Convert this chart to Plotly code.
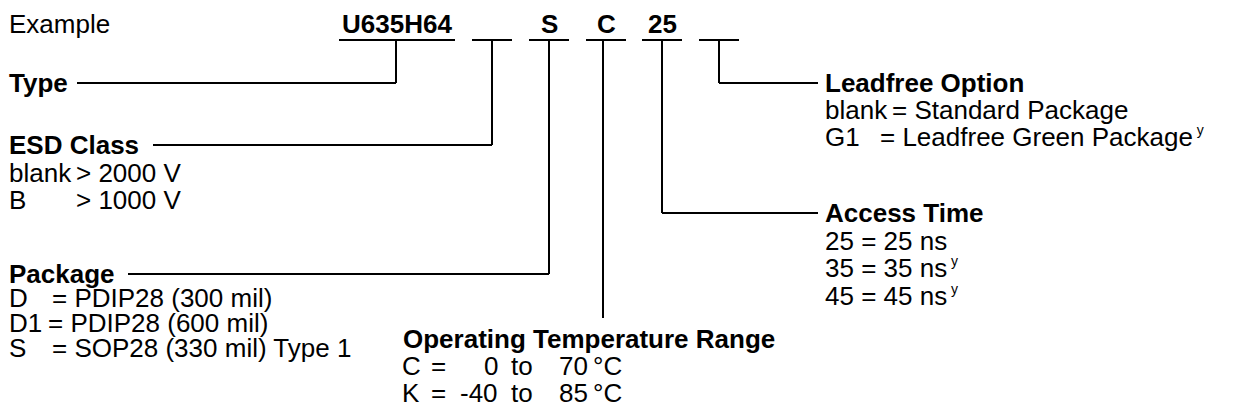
import plotly.graph_objects as go

# ---- content (text data) ----
example_label = "Example"
code_parts = ["U635H64", "", "S", "C", "25", ""]
group_titles = ["Type", "ESD Class", "Package", "Operating Temperature Range", "Access Time", "Leadfree Option"]
esd_codes = ["blank", "B"]
esd_desc = ["> 2000 V", "> 1000 V"]
pkg_codes = ["D", "D1", "S"]
pkg_desc = ["= PDIP28 (300 mil)", "= PDIP28 (600 mil)", "= SOP28 (330 mil) Type 1"]
temp_codes = ["C", "K"]
temp_low = ["0", "-40"]
temp_high = ["70", "85"]
temp_unit = "°C"
access_codes = ["25", "35", "45"]
access_desc = ["25 ns", "35 ns", "45 ns"]
access_note = [False, True, True]
lead_codes = ["blank", "G1"]
lead_desc = ["Standard Package", "Leadfree Green Package"]
lead_note = [False, True]

# ---- layout geometry (pixels) ----
W, H = 1237, 416
FONT = "Arial, Liberation Sans, sans-serif"
FS = 26
BLACK = "#000000"

fig = go.Figure()
ann = []
shapes = []


def text(x, y, s, bold=False, anchor="left", size=FS):
    if bold:
        s = "<b>" + s + "</b>"
    ann.append(dict(x=x, y=y, text=s, xref="x", yref="y", showarrow=False,
                    xanchor=anchor, yanchor="middle", borderpad=0,
                    font=dict(family=FONT, size=size, color=BLACK)))


def line(x0, y0, x1, y1):
    shapes.append(dict(type="line", x0=x0, y0=y0, x1=x1, y1=y1, xref="x", yref="y",
                       line=dict(color=BLACK, width=2)))

note = "<sup><span style='font-size:14px'> y</span></sup>"

# header
head_y = 24
under_y = 40
part_centers = [397, 492, 549, 606, 662, 719]
part_half = [58, 20, 20, 20, 20, 20]
text(8, head_y, example_label)
for s, cx, hw in zip(code_parts, part_centers, part_half):
    if s:
        text(cx, head_y, s, bold=True, anchor="center")
    line(cx - hw, under_y, cx + hw, under_y)

# Type
type_y = 83
text(8, type_y, group_titles[0], bold=True)
line(77, type_y, 396, type_y)
line(396, under_y, 396, type_y)

# ESD Class
esd_y = 145
text(8, esd_y, group_titles[1], bold=True)
line(153, esd_y, part_centers[1], esd_y)
line(part_centers[1], under_y, part_centers[1], esd_y)
esd_rows = [173, 200]
for c, d, yy in zip(esd_codes, esd_desc, esd_rows):
    text(8, yy, c)
    text(75, yy, d)

# Package
pkg_y = 274
text(8, pkg_y, group_titles[2], bold=True)
line(128, pkg_y, part_centers[2], pkg_y)
line(part_centers[2], under_y, part_centers[2], pkg_y)
eq_x = [51, 47, 51]
pkg_rows = [298, 323, 348]
for c, d, ex, yy in zip(pkg_codes, pkg_desc, eq_x, pkg_rows):
    text(8, yy, c)
    text(ex, yy, d)

# Operating temperature
tc_x = 603
line(tc_x, under_y, tc_x, 318)
op_y = 339
text(402, op_y, group_titles[3], bold=True)
temp_rows = [366, 393]
for c, lo, hi, yy in zip(temp_codes, temp_low, temp_high, temp_rows):
    text(401, yy, c)
    text(430, yy, "=")
    text(499, yy, lo, anchor="right")
    text(510, yy, "to")
    text(589, yy, hi, anchor="right")
    text(592, yy, temp_unit)

# Access time
acc_y = 213
line(part_centers[4], under_y, part_centers[4], acc_y)
line(part_centers[4], acc_y, 818, acc_y)
text(824, acc_y, group_titles[4], bold=True)
acc_rows = [241, 268, 296]
for c, d, n, yy in zip(access_codes, access_desc, access_note, acc_rows):
    text(824, yy, c + " = " + d + (note if n else ""))

# Leadfree option
lf_y = 83
line(part_centers[5], under_y, part_centers[5], lf_y)
line(part_centers[5], lf_y, 818, lf_y)
text(824, lf_y, group_titles[5], bold=True)
lead_eq_x = [891, 879]
lead_rows = [110, 137]
for c, d, n, ex, yy in zip(lead_codes, lead_desc, lead_note, lead_eq_x, lead_rows):
    text(824, yy, c)
    text(ex, yy, "= " + d + (note if n else ""))

fig.update_layout(
    width=W, height=H,
    margin=dict(l=0, r=0, t=0, b=0),
    paper_bgcolor="white", plot_bgcolor="white",
    xaxis=dict(range=[0, W], visible=False, fixedrange=True),
    yaxis=dict(range=[H, 0], visible=False, fixedrange=True),
    annotations=ann, shapes=shapes, showlegend=False,
)
fig.write_html("out.html", config=dict(displayModeBar=False),
               post_script="document.body.style.margin='0';document.body.style.overflow='hidden';")
